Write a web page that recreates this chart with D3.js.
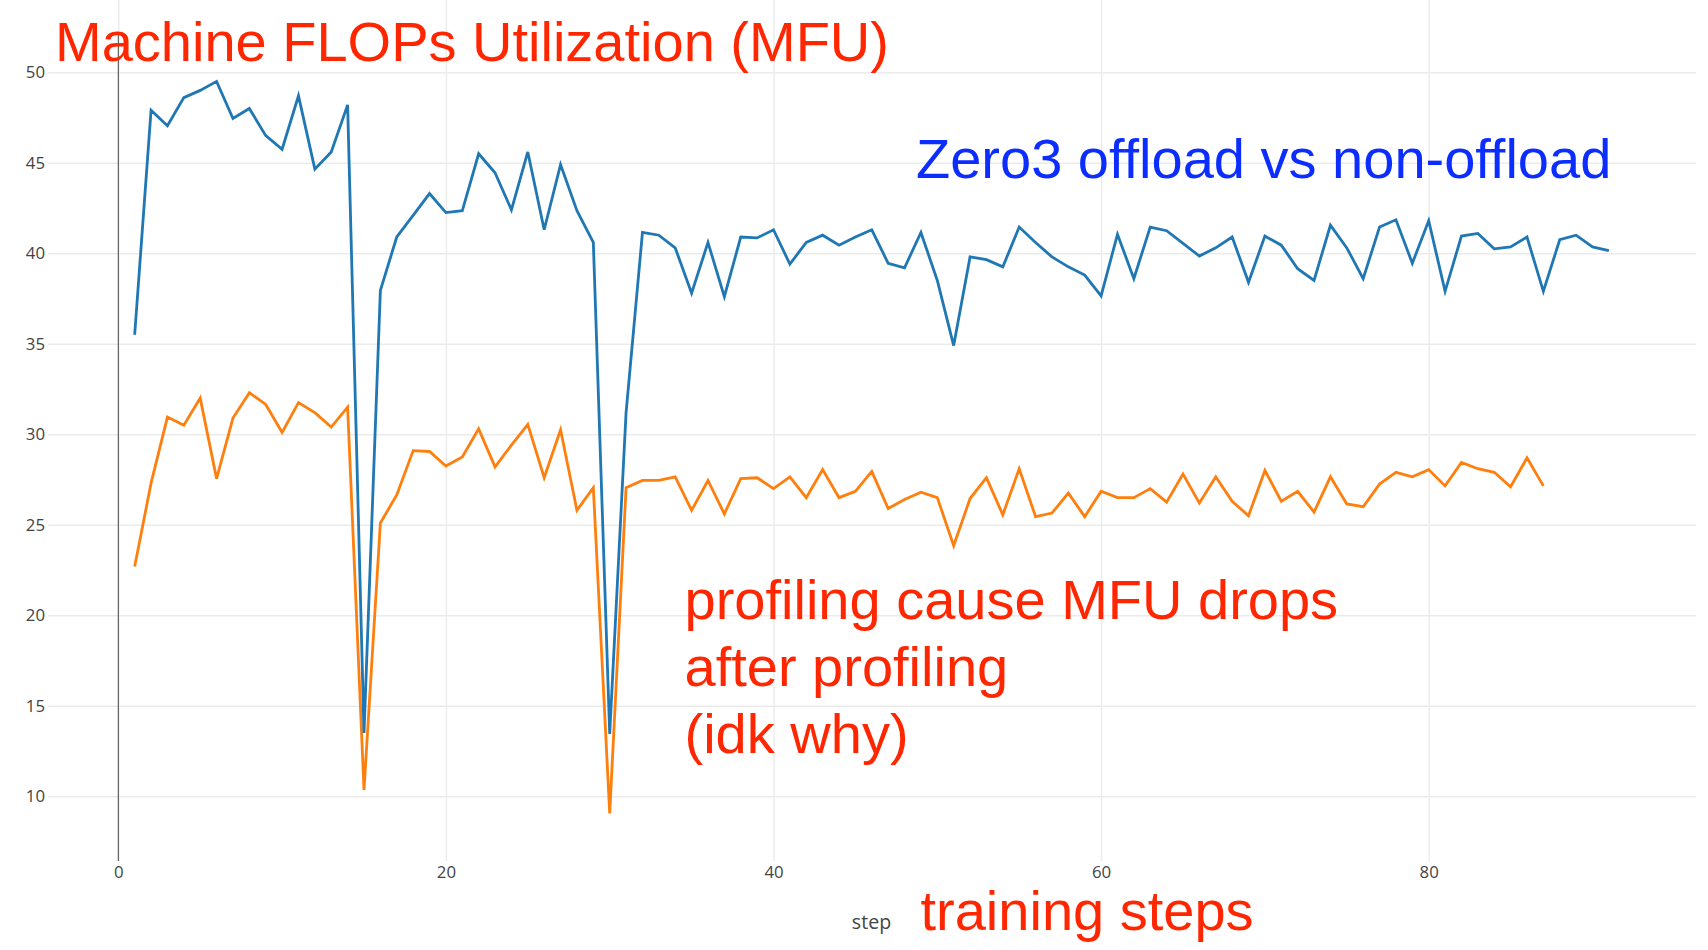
<!DOCTYPE html>
<html>
<head>
<meta charset="utf-8">
<script src="https://cdn.jsdelivr.net/npm/d3@7"></script>
<style>
  html, body { margin: 0; padding: 0; background: #fff; }
  svg { display: block; }
</style>
</head>
<body>
<svg id="chart" width="1708" height="950"></svg>
<script>
// ---- data ----
const blueSteps = d3.range(1, 92);
const blueValues = [35.5, 47.9, 47.05, 48.6, 49.0, 49.5, 47.45, 48.0, 46.5, 45.75,
  48.7, 44.65, 45.6, 48.2, 13.5, 37.95, 40.9, 42.1, 43.3, 42.25,
  42.35, 45.5, 44.45, 42.4, 45.6, 41.3, 44.9, 42.35, 40.6, 13.45,
  31.2, 41.15, 41.0, 40.3, 37.8, 40.6, 37.6, 40.9, 40.85, 41.3,
  39.4, 40.6, 41.0, 40.45, 40.9, 41.3, 39.45, 39.2, 41.15, 38.5,
  34.9, 39.8, 39.65, 39.25, 41.45, 40.6, 39.8, 39.25, 38.8, 37.65,
  41.05, 38.6, 41.45, 41.25, 40.55, 39.85, 40.3, 40.9, 38.4, 40.95,
  40.45, 39.15, 38.5, 41.55, 40.3, 38.6, 41.45, 41.85, 39.45, 41.8,
  37.9, 40.95, 41.1, 40.25, 40.35, 40.9, 37.9, 40.75, 41.0, 40.35, 40.15];
const orangeSteps = d3.range(1, 88);
const orangeValues = [22.7, 27.3, 30.95, 30.5, 32.0, 27.55, 30.9, 32.3, 31.65, 30.1,
  31.75, 31.2, 30.4, 31.5, 10.35, 25.1, 26.65, 29.1, 29.05, 28.25,
  28.75, 30.3, 28.2, 29.4, 30.55, 27.6, 30.25, 25.8, 27.05, 9.05,
  27.05, 27.45, 27.45, 27.65, 25.8, 27.45, 25.6, 27.55, 27.6, 27.0,
  27.65, 26.5, 28.05, 26.5, 26.85, 27.95, 25.9, 26.4, 26.8, 26.5,
  23.85, 26.45, 27.6, 25.55, 28.1, 25.45, 25.65, 26.75, 25.45, 26.85,
  26.5, 26.5, 27.0, 26.25, 27.8, 26.2, 27.65, 26.3, 25.5, 28.0,
  26.3, 26.85, 25.7, 27.65, 26.15, 26.0, 27.25, 27.9, 27.65, 28.05,
  27.15, 28.45, 28.1, 27.9, 27.1, 28.7, 27.15];
const xTicks = [0, 20, 40, 60, 80];
const yTicks = [10, 15, 20, 25, 30, 35, 40, 45, 50];
const titleText = "Machine FLOPs Utilization (MFU)";
const subtitleText = "Zero3 offload vs non-offload";
const noteLines = ["profiling cause MFU drops", "after profiling", "(idk why)"];
const xAxisTitle = "step";
const xNote = "training steps";

// ---- layout ----
const plotLeft = 48.3, plotRight = 1696, plotBottom = 861;
const svg = d3.select("#chart");
svg.append("rect").attr("width", 1708).attr("height", 950).attr("fill", "#fff");

const x = d3.scaleLinear().domain([0, 80]).range([118.3, 1428.7]);
const y = d3.scaleLinear().domain([10, 50]).range([796.3, 72.3]);

// y grid + labels
const gy = svg.append("g").attr("transform", `translate(${plotLeft},0)`)
  .call(d3.axisLeft(y).tickValues(yTicks).tickSize(-(plotRight - plotLeft)).tickPadding(3.3).tickFormat(d3.format("d")));
gy.select(".domain").remove();
gy.selectAll(".tick line").attr("stroke", "#ebebeb").attr("stroke-width", 1.4);
gy.selectAll(".tick text").attr("fill", "#444").style("font-family", "'Open Sans', sans-serif").style("font-size", "16.8px");

// x grid + labels
const gx = svg.append("g").attr("transform", `translate(0,${plotBottom})`)
  .call(d3.axisBottom(x).tickValues(xTicks).tickSize(-plotBottom).tickPadding(5).tickFormat(d3.format("d")));
gx.select(".domain").remove();
gx.selectAll(".tick line").attr("stroke", "#ebebeb").attr("stroke-width", 1.4);
gx.selectAll(".tick text").attr("fill", "#444").style("font-family", "'Open Sans', sans-serif").style("font-size", "16.8px");

// zero line
svg.append("line")
  .attr("x1", x(0)).attr("x2", x(0)).attr("y1", 33).attr("y2", plotBottom)
  .attr("stroke", "#444").attr("stroke-width", 1);

// lines
const line = d3.line().x(d => x(d[0])).y(d => y(d[1]));
svg.append("path")
  .datum(orangeSteps.map((s, i) => [s, orangeValues[i]]))
  .attr("d", line).attr("fill", "none").attr("stroke", "#ff7f0e").attr("stroke-width", 2.8);
svg.append("path")
  .datum(blueSteps.map((s, i) => [s, blueValues[i]]))
  .attr("d", line).attr("fill", "none").attr("stroke", "#1f77b4").attr("stroke-width", 2.8);

// axis title
svg.append("text").attr("x", 871.5).attr("y", 929).attr("text-anchor", "middle")
  .attr("fill", "#444").style("font-family", "'Open Sans', sans-serif").style("font-size", "19.6px")
  .text(xAxisTitle);

// annotations
const annFont = "'Liberation Sans', Arial, Helvetica, sans-serif";
const red = "#ff2600";
svg.append("text").attr("x", 55).attr("y", 61).attr("fill", red)
  .style("font-family", annFont).style("font-size", "56px").text(titleText);
svg.append("text").attr("x", 916).attr("y", 178.3).attr("fill", "#0b2dff")
  .style("font-family", annFont).style("font-size", "56px").text(subtitleText);
svg.append("text").attr("x", 684.5).attr("fill", red)
  .style("font-family", annFont).style("font-size", "56px")
  .selectAll("tspan").data(noteLines).join("tspan")
  .attr("x", 684.5).attr("y", (d, i) => 619 + i * 66.8).text(d => d);
svg.append("text").attr("x", 920.5).attr("y", 930).attr("fill", red)
  .style("font-family", annFont).style("font-size", "56px").text(xNote);
</script>
</body>
</html>
